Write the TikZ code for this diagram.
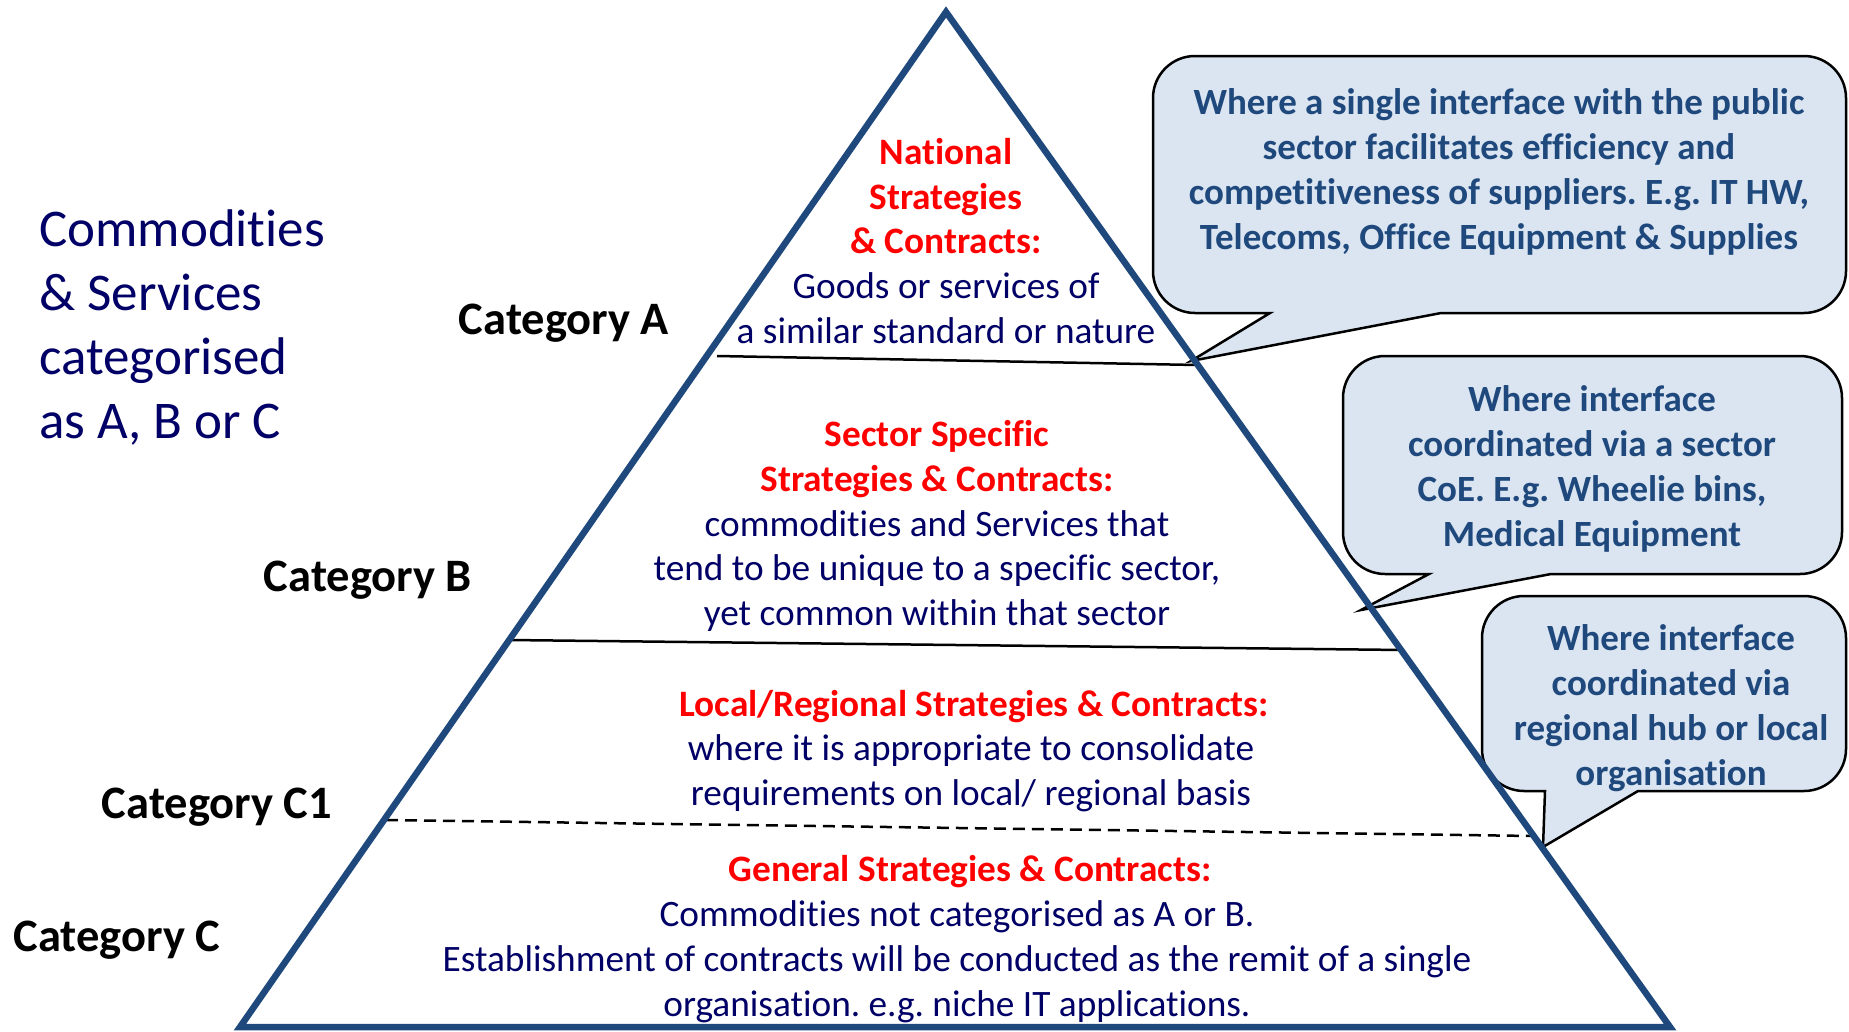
\documentclass[tikz,border=0pt]{standalone}
\usepackage{fontspec}
\setmainfont{Carlito}[Ligatures=NoCommon]
\definecolor{pyrblue}{HTML}{1F497D}
\definecolor{navytext}{HTML}{000066}
\definecolor{bubfill}{HTML}{DBE5F1}
\definecolor{redtext}{HTML}{FF0000}
\newcommand\redt[1]{\textcolor{redtext}{#1}}
\frenchspacing
\begin{document}
\begin{tikzpicture}[x=1pt,y=1pt,
  body/.style={inner sep=0pt, align=center, text=navytext, font=\fontsize{37.3}{44.8}\selectfont},
  bubtext/.style={inner sep=0pt, align=center, text=pyrblue, font=\fontsize{37}{44.8}\selectfont\bfseries},
  cat/.style={inner sep=0pt, text=black, font=\fontsize{46.5}{56}\selectfont\bfseries},
  lefttext/.style={inner sep=0pt, align=left, text=navytext, font=\fontsize{53}{64}\selectfont},
  bubble/.style={draw=black, line width=2.5pt, fill=bubfill, line join=miter},
  pyramid/.style={draw=pyrblue, line width=6.5pt, line join=miter},
  divider/.style={draw=black, line width=2.5pt},
  dashdiv/.style={draw=black, line width=2.5pt, dash pattern=on 12pt off 7pt}
]
\useasboundingbox (0,0) rectangle (1849,-1031);

% dividers
\coordinate (d1l) at (717,-356);
\coordinate (d1r) at (1197,-365);
\coordinate (d2l) at (509,-640);
\coordinate (d2r) at (1404,-650);
\coordinate (d3l) at (386,-820);
\coordinate (d3r) at (1533,-836);
\draw[divider] (d1l) -- (d1r);
\draw[divider] (d2l) -- (d2r);
\draw[dashdiv] (d3l) -- (d3r);

% callout bubbles
\draw[bubble] (1195,-56) -- (1804,-56) arc[start angle=90,end angle=0,radius=42]
  -- (1846,-271) arc[start angle=0,end angle=-90,radius=42]
  -- (1441,-313) -- (1191,-361) -- (1270,-313)
  -- (1195,-313) arc[start angle=270,end angle=180,radius=42]
  -- (1153,-98) arc[start angle=180,end angle=90,radius=42] -- cycle;
\draw[bubble] (1385,-356) -- (1800,-356) arc[start angle=90,end angle=0,radius=42]
  -- (1842,-532) arc[start angle=0,end angle=-90,radius=42]
  -- (1551,-574) -- (1361,-610) -- (1429,-574)
  -- (1385,-574) arc[start angle=270,end angle=180,radius=42]
  -- (1343,-398) arc[start angle=180,end angle=90,radius=42] -- cycle;
\draw[bubble] (1524,-596) -- (1804,-596) arc[start angle=90,end angle=0,radius=42]
  -- (1846,-749) arc[start angle=0,end angle=-90,radius=42]
  -- (1638,-791) -- (1543,-847) -- (1545,-791)
  -- (1524,-791) arc[start angle=270,end angle=180,radius=42]
  -- (1482,-638) arc[start angle=180,end angle=90,radius=42] -- cycle;

% pyramid
\coordinate (apex) at (946,-12);
\coordinate (bl) at (240,-1027);
\coordinate (br) at (1670,-1027);
\draw[pyramid] (apex) -- (bl) -- (br) -- cycle;

% left text
\node[lefttext, anchor=west] (intro) at (39,-327) {Commodities\\\& Services\\categorised\\as A, B or C};

% category labels
\node[cat] (catA) at (564,-323) {Category A};
\node[cat] (catB) at (368,-580) {Category B};
\node[cat] (catC1) at (217,-807) {Category C1};
\node[cat] (catC) at (117,-940) {Category C};

% pyramid texts
\node[body] (secA) at (946,-241) {\redt{\bfseries National}\\\redt{\bfseries Strategies}\\\redt{\bfseries \& Contracts:}\\Goods or services of\\a similar standard or nature};
\node[body] (secB) at (937,-526) {\redt{\bfseries Sector Specific}\\\redt{\bfseries Strategies \& Contracts:}\\commodities and Services that\\tend to be unique to a specific sector,\\yet common within that sector};
\node[body] (secC1) at (974,-751) {\redt{\bfseries Local/Regional Strategies \& Contracts:}\\\hspace*{-6pt}where it is appropriate to consolidate\\\hspace*{-6pt}requirements on local/ regional basis};
\node[body, font=\fontsize{37.3}{44.8}\selectfont\bfseries, text=redtext] (secCt) at (970,-872) {General Strategies \& Contracts:};
\node[body] (secC) at (957,-962) {Commodities not categorised as A or B.\\Establishment of contracts will be conducted as the remit of a single\\organisation. e.g. niche IT applications.};

% callout texts
\node[bubtext] (bub1) at (1499,-172) {Where a single interface with the public\\sector facilitates efficiency and\\competitiveness of suppliers. E.g. IT HW,\\Telecoms, Office Equipment \& Supplies};
\node[bubtext] (bub2) at (1592,-469) {Where interface\\coordinated via a sector\\CoE. E.g. Wheelie bins,\\Medical Equipment};
\node[bubtext] (bub3) at (1671,-708) {Where interface\\coordinated via\\regional hub or local\\organisation};
\end{tikzpicture}
\end{document}
